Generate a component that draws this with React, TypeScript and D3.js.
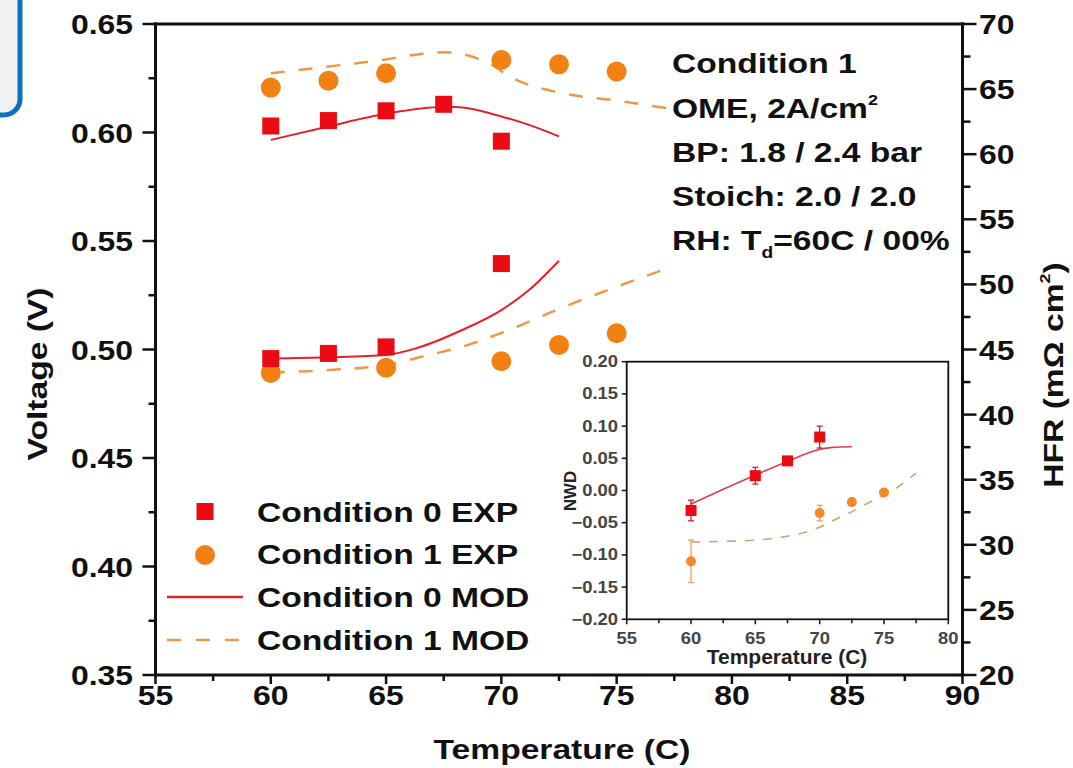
import React from 'react';
import * as d3 from 'd3';

// ---------- Data ----------
const tempTicks = [55, 60, 65, 70, 75, 80, 85, 90];
const voltTicks = [0.35, 0.4, 0.45, 0.5, 0.55, 0.6, 0.65];
const hfrTicks = [20, 25, 30, 35, 40, 45, 50, 55, 60, 65, 70];

// Condition 0 EXP (squares)
const c0VoltTemps = [60, 62.5, 65, 67.5, 70];
const c0Volt = [0.603, 0.6055, 0.61, 0.613, 0.596];
const c0HfrTemps = [60, 62.5, 65, 70];
const c0Hfr = [44.3, 44.7, 45.2, 51.6];

// Condition 1 EXP (circles)
const c1VoltTemps = [60, 62.5, 65, 70, 72.5, 75];
const c1Volt = [0.6207, 0.6239, 0.6273, 0.6334, 0.6314, 0.6281];
const c1HfrTemps = [60, 65, 70, 72.5, 75];
const c1Hfr = [43.2, 43.6, 44.1, 45.35, 46.25];

// Condition 0 MOD (solid)
const m0VoltTemps = [60, 62.5, 65, 67.5, 68, 70, 71.2, 72.5];
const m0Volt = [0.5966, 0.6028, 0.6086, 0.6117, 0.6117, 0.6074, 0.6035, 0.5982];
const m0HfrTemps = [60, 62.5, 65, 66.3, 68.3, 70, 71.2, 72.5];
const m0Hfr = [44.31, 44.4, 44.58, 45.09, 46.5, 48.03, 49.57, 51.82];

// Condition 1 MOD (dashed)
const m1VoltTemps = [60, 62.5, 65, 66.5, 67.5, 68.5, 69.5, 70.5, 72.5, 75, 77.5];
const m1Volt = [0.6273, 0.6304, 0.6337, 0.6362, 0.637, 0.6357, 0.6316, 0.625, 0.6184, 0.6147, 0.6107];
const m1HfrTemps = [60, 62.5, 65, 66.85, 68.3, 70, 72.6, 75, 77.4];
const m1Hfr = [43.23, 43.42, 43.81, 44.58, 45.21, 46.27, 48.19, 49.82, 51.36];

// Inset (NWD)
const insetXTicks = [55, 60, 65, 70, 75, 80];
const insetYTicks = [-0.2, -0.15, -0.1, -0.05, 0, 0.05, 0.1, 0.15, 0.2];
const in0Temps = [60, 65, 67.5, 70];
const in0Nwd = [-0.031, 0.023, 0.046, 0.083];
const in0Err = [0.016, 0.013, 0.005, 0.017];
const in1Temps = [60, 70, 72.5, 75];
const in1Nwd = [-0.11, -0.035, -0.018, -0.003];
const in1Err = [0.033, 0.012, 0.005, 0.005];
const inM0Temps = [60, 62.5, 65, 67.5, 70, 71, 72.5];
const inM0 = [-0.021, 0.002, 0.024, 0.045, 0.064, 0.067, 0.068];
const inM1Temps = [60, 62.5, 65, 67.5, 69, 70, 71, 72.5, 74, 75, 77.5];
const inM1 = [-0.08, -0.079, -0.077, -0.071, -0.064, -0.057, -0.047, -0.033, -0.017, -0.008, 0.027];

const legendLabels = ['Condition 0 EXP', 'Condition 1 EXP', 'Condition 0 MOD', 'Condition 1 MOD'];

// ---------- Style ----------
const RED = '#ec0a14';
const ORANGE = '#f28012';
const RED_LINE = '#e4202c';
const DASH = '#e99a45';
const FONT = '"Liberation Sans", Arial, Helvetica, sans-serif';

const W = 1073;
const H = 768;

type TProps = {
  x: number; y: number; sx?: number; size?: number; weight?: string; anchor?: string;
  rotate?: number; fill?: string; children?: React.ReactNode;
};
function T({ x, y, sx = 1.2, size = 28, weight = 'bold', anchor = 'start', rotate = 0, fill = '#111', children }: TProps) {
  return (
    <text
      transform={`translate(${x},${y}) rotate(${rotate}) scale(${sx},1)`}
      fontFamily={FONT}
      fontSize={size}
      fontWeight={weight}
      textAnchor={anchor as any}
      fill={fill}
    >
      {children}
    </text>
  );
}

function mid(arr: number[]) {
  const out: number[] = [];
  for (let i = 0; i < arr.length - 1; i++) out.push((arr[i] + arr[i + 1]) / 2);
  return out;
}

export default function App() {
  const x = d3.scaleLinear().domain([55, 90]).range([155.5, 962.5]);
  const yL = d3.scaleLinear().domain([0.35, 0.65]).range([675, 24]);
  const yR = d3.scaleLinear().domain([20, 70]).range([675, 24]);

  const ix = d3.scaleLinear().domain([55, 80]).range([626.7, 948.3]);
  const iy = d3.scaleLinear().domain([-0.2, 0.2]).range([619.3, 361.7]);

  const mk = (xs: number[], ys: number[], sx: any, sy: any) =>
    d3.line<number>().x((_, i) => sx(xs[i])).y((d) => sy(d)).curve(d3.curveMonotoneX)(ys) || '';

  const L = x.range()[0];
  const R = x.range()[1];
  const B = yL.range()[0];
  const Tp = yL.range()[1];

  const fmt2 = d3.format('.2f');

  return (
    <svg width={W} height={H} style={{ position: 'absolute', left: 0, top: 0, background: '#fff' }}>
      <rect x={0} y={0} width={W} height={H} fill="#fff" />

      {/* partial blue box at top-left */}
      <rect x={-30} y={-30} width={50} height={145} rx={16} ry={16} fill="#f1f1f1" stroke="#0b6fc2" strokeWidth={5} />

      {/* Curves main */}
      <path d={mk(m0VoltTemps, m0Volt, x, yL)} fill="none" stroke={RED_LINE} strokeWidth={2} />
      <path d={mk(m0HfrTemps, m0Hfr, x, yR)} fill="none" stroke={RED_LINE} strokeWidth={2} />
      <path d={mk(m1VoltTemps, m1Volt, x, yL)} fill="none" stroke={DASH} strokeWidth={2.5} strokeDasharray="14,14" />
      <path d={mk(m1HfrTemps, m1Hfr, x, yR)} fill="none" stroke={DASH} strokeWidth={2.5} strokeDasharray="14,14" />

      {/* Markers main */}
      {c1Volt.map((v, i) => (
        <circle key={'c1v' + i} cx={x(c1VoltTemps[i])} cy={yL(v)} r={10} fill={ORANGE} />
      ))}
      {c1Hfr.map((v, i) => (
        <circle key={'c1h' + i} cx={x(c1HfrTemps[i])} cy={yR(v)} r={10} fill={ORANGE} />
      ))}
      {c0Volt.map((v, i) => (
        <rect key={'c0v' + i} x={x(c0VoltTemps[i]) - 8.5} y={yL(v) - 8.5} width={17} height={17} fill={RED} />
      ))}
      {c0Hfr.map((v, i) => (
        <rect key={'c0h' + i} x={x(c0HfrTemps[i]) - 8.5} y={yR(v) - 8.5} width={17} height={17} fill={RED} />
      ))}

      {/* Frame */}
      <g stroke="#111" strokeWidth={3} fill="none" strokeLinecap="square">
        <line x1={L} y1={Tp} x2={R} y2={Tp} />
        <line x1={L} y1={B} x2={R} y2={B} />
        <line x1={L} y1={Tp} x2={L} y2={B} />
        <line x1={R} y1={Tp} x2={R} y2={B} />
      </g>

      {/* Axis ticks */}
      <g stroke="#111" strokeWidth={2.5}>
        {tempTicks.map((t) => (
          <line key={'xt' + t} x1={x(t)} x2={x(t)} y1={B} y2={B + 9} />
        ))}
        {mid(tempTicks).map((t) => (
          <line key={'xm' + t} x1={x(t)} x2={x(t)} y1={B} y2={B + 6} />
        ))}
        {voltTicks.map((t) => (
          <line key={'lt' + t} x1={L - 13} x2={L} y1={yL(t)} y2={yL(t)} />
        ))}
        {mid(voltTicks).map((t) => (
          <line key={'lm' + t} x1={L - 7} x2={L} y1={yL(t)} y2={yL(t)} />
        ))}
        {hfrTicks.map((t) => (
          <line key={'rt' + t} x1={R} x2={R + 14} y1={yR(t)} y2={yR(t)} />
        ))}
        {mid(hfrTicks).map((t) => (
          <line key={'rm' + t} x1={R} x2={R + 8} y1={yR(t)} y2={yR(t)} />
        ))}
      </g>

      {/* Tick labels */}
      {tempTicks.map((t) => (
        <T key={'xl' + t} x={x(t)} y={705} anchor="middle" sx={1.14}>{String(t)}</T>
      ))}
      {voltTicks.map((t) => (
        <T key={'ll' + t} x={133} y={yL(t) + 10} anchor="end" sx={1.14}>{fmt2(t)}</T>
      ))}
      {hfrTicks.map((t) => (
        <T key={'rl' + t} x={979} y={yR(t) + 10} anchor="start" sx={1.14}>{String(t)}</T>
      ))}

      {/* Axis titles */}
      <T x={562} y={759} anchor="middle">Temperature (C)</T>
      <T x={47} y={374} anchor="middle" rotate={-90}>Voltage (V)</T>
      <T x={1063} y={375} anchor="middle" rotate={-90}>
        HFR (mΩ cm<tspan fontSize={15} dy={-13}>2</tspan><tspan dy={13}>)</tspan>
      </T>

      {/* Annotation */}
      <T x={672} y={73}>Condition 1</T>
      <T x={672} y={118}>
        OME, 2A/cm<tspan fontSize={15} dy={-13}>2</tspan>
      </T>
      <T x={672} y={162}>BP: 1.8 / 2.4 bar</T>
      <T x={672} y={206}>Stoich: 2.0 / 2.0</T>
      <T x={672} y={250}>
        RH: T<tspan fontSize={16} dy={8}>d</tspan><tspan dy={-8}>=60C / 00%</tspan>
      </T>

      {/* Legend */}
      <rect x={196.5} y={503} width={17} height={17} fill={RED} />
      <circle cx={205} cy={555} r={10} fill={ORANGE} />
      <line x1={167} x2={243} y1={597} y2={597} stroke={RED_LINE} strokeWidth={2.5} />
      <line x1={167} x2={243} y1={640} y2={640} stroke={DASH} strokeWidth={2.5} strokeDasharray="14,15" />
      {legendLabels.map((s, i) => (
        <T key={'lg' + i} x={257} y={[522, 564, 607, 650][i]}>{s}</T>
      ))}

      {/* Inset */}
      <g>
        <rect x={ix(55)} y={iy(0.2)} width={ix(80) - ix(55)} height={iy(-0.2) - iy(0.2)} fill="#fff" stroke="#111" strokeWidth={1.8} />
        <path d={mk(inM1Temps, inM1, ix, iy)} fill="none" stroke="#d7a271" strokeWidth={1.6} strokeDasharray="9,9" />
        <path d={mk(inM0Temps, inM0, ix, iy)} fill="none" stroke="#e23a52" strokeWidth={1.6} />
        {in1Nwd.map((v, i) => {
          const cx = ix(in1Temps[i]);
          return (
            <g key={'i1' + i}>
              <line x1={cx} x2={cx} y1={iy(v - in1Err[i])} y2={iy(v + in1Err[i])} stroke="#e9a060" strokeWidth={1.3} />
              <line x1={cx - 3} x2={cx + 3} y1={iy(v - in1Err[i])} y2={iy(v - in1Err[i])} stroke="#e9a060" strokeWidth={1.3} />
              <line x1={cx - 3} x2={cx + 3} y1={iy(v + in1Err[i])} y2={iy(v + in1Err[i])} stroke="#e9a060" strokeWidth={1.3} />
              <circle cx={cx} cy={iy(v)} r={5} fill={ORANGE} opacity={0.9} />
            </g>
          );
        })}
        {in0Nwd.map((v, i) => {
          const cx = ix(in0Temps[i]);
          return (
            <g key={'i0' + i}>
              <line x1={cx} x2={cx} y1={iy(v - in0Err[i])} y2={iy(v + in0Err[i])} stroke="#d8202c" strokeWidth={1.3} />
              <line x1={cx - 3} x2={cx + 3} y1={iy(v - in0Err[i])} y2={iy(v - in0Err[i])} stroke="#d8202c" strokeWidth={1.3} />
              <line x1={cx - 3} x2={cx + 3} y1={iy(v + in0Err[i])} y2={iy(v + in0Err[i])} stroke="#d8202c" strokeWidth={1.3} />
              <rect x={cx - 5.5} y={iy(v) - 5.5} width={11} height={11} fill={RED} />
            </g>
          );
        })}
        <g stroke="#111" strokeWidth={1.5}>
          {insetXTicks.map((t) => (
            <line key={'ixt' + t} x1={ix(t)} x2={ix(t)} y1={iy(-0.2)} y2={iy(-0.2) + 5} />
          ))}
          {mid(insetXTicks).map((t) => (
            <line key={'ixm' + t} x1={ix(t)} x2={ix(t)} y1={iy(-0.2)} y2={iy(-0.2) + 4} />
          ))}
          {insetYTicks.map((t) => (
            <line key={'iyt' + t} x1={ix(55) - 5} x2={ix(55)} y1={iy(t)} y2={iy(t)} />
          ))}
        </g>
        {insetXTicks.map((t) => (
          <T key={'ixl' + t} x={ix(t)} y={644} anchor="middle" size={16} sx={1.15} fill="#444">{String(t)}</T>
        ))}
        {insetYTicks.map((t) => (
          <T key={'iyl' + t} x={618} y={iy(t) + 5.5} anchor="end" size={16} sx={1.15} fill="#444">{fmt2(t)}</T>
        ))}
        <T x={787} y={664} anchor="middle" size={20} sx={1.05} fill="#222">Temperature (C)</T>
        <T x={576} y={491} anchor="middle" rotate={-90} size={16} sx={1.05} fill="#222">NWD</T>
      </g>
    </svg>
  );
}
